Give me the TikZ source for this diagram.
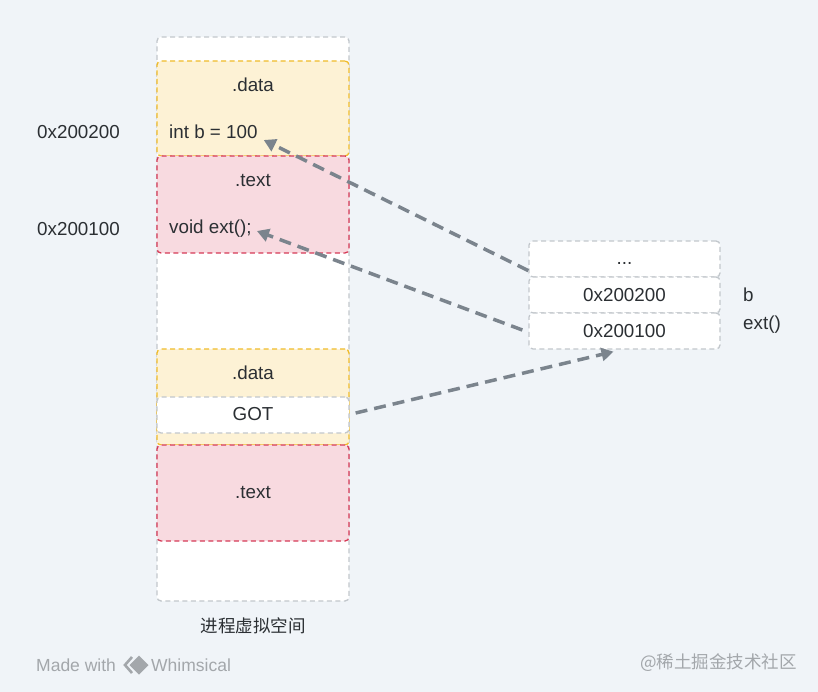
\documentclass[tikz,border=0pt]{standalone}
\usepackage{fontspec}
\setmainfont{Liberation Sans}
\newfontfamily\cjk{Noto Sans CJK SC}
\usetikzlibrary{arrows.meta, calc}
\definecolor{bgpaper}{HTML}{F0F4F8}
\definecolor{ink}{HTML}{2B2F33}
\definecolor{gapgray}{HTML}{C2C7CC}
\definecolor{datafill}{HTML}{FDF2D5}
\definecolor{dataedge}{HTML}{F0BC2A}
\definecolor{textfill}{HTML}{F8DAE0}
\definecolor{textedge}{HTML}{D63A57}
\definecolor{ptrgray}{HTML}{7B848D}
\definecolor{markgray}{HTML}{A3A7AB}

\begin{document}
\begin{tikzpicture}[x=1pt, y=-1pt,
  seg/.style={rounded corners=4pt, dash pattern=on 5pt off 3.5pt, line width=1.3pt, minimum width=192pt, inner sep=0pt},
  blank/.style={seg, draw=gapgray, fill=white},
  datab/.style={seg, draw=dataedge, fill=datafill},
  textb/.style={seg, draw=textedge, fill=textfill},
  lbl/.style={font=\fontsize{18.8}{22}\selectfont, text=ink, inner sep=2pt},
  foot/.style={font=\fontsize{17.5}{20}\selectfont, text=markgray, inner sep=0pt},
  ptr/.style={draw=ptrgray, line width=3.5pt, dash pattern=on 12pt off 7pt, -{Triangle[length=12pt,width=13pt]}}
]
\useasboundingbox (0,0) rectangle (818,692);
\fill[bgpaper] (0,0) rectangle (818,692);

% process address space
\node[blank, minimum height=564pt] (space) at (253,319) {};
\node[datab, minimum height=95pt]  (data1) at (253,108.5) {};
\node[textb, minimum height=97pt]  (text1) at (253,204.5) {};
\node[datab, minimum height=96pt]  (data2) at (253,397) {};
\node[blank, minimum height=36pt]  (got)   at (253,415) {};
\node[textb, minimum height=96pt]  (text2) at (253,493) {};

\node[lbl] at (253,85)  {.data};
\node[lbl, anchor=west] (intb) at (167,132) {int b = 100};
\node[lbl] at (253,181) {.text};
\node[lbl, anchor=west] (voidext) at (167,229) {void ext();};
\node[lbl] at (253,373) {.data};
\node[lbl] at (253,414) {GOT};
\node[lbl] at (253,493) {.text};

\node[lbl, anchor=west] (adrb) at (35,132) {0x200200};
\node[lbl, anchor=west] (adre) at (35,229) {0x200100};
\node[lbl, font=\fontsize{17.5}{20}\selectfont] (caption) at (253,626) {\cjk 进程虚拟空间};

% global offset table
\node[blank, minimum width=191pt, minimum height=36pt] (dots)  at (624.5,259) {};
\node[blank, minimum width=191pt, minimum height=36pt] (addr2) at (624.5,295) {};
\node[blank, minimum width=191pt, minimum height=36pt] (addr1) at (624.5,331) {};
\node[lbl] at ($(dots)+(0,4)$) {...};
\node[lbl] at (addr2) {0x200200};
\node[lbl] at (addr1) {0x200100};
\node[lbl, anchor=west] (symb) at (741,295) {b};
\node[lbl, anchor=west] (syme) at (741,325) {ext()};

\draw[ptr] ($(dots.south west)+(0,-7)$) -- ($(intb.east)+(4,8)$);
\draw[ptr] ($(addr1.west)+(-6,-1)$) -- ($(voidext.east)+(3,2)$);
\draw[ptr] ($(got.east)+(6,-2)$) -- ($(addr1.south)+(-11,2)$);

% footer
\node[foot, anchor=west] (made) at (36,665) {Made with};
\draw[markgray, line width=2.6pt] (132,657) -- (125,665) -- (132,673);
\fill[markgray] (139,655.5) -- (148.5,665) -- (139,674.5) -- (129.5,665) -- cycle;
\node[foot, anchor=west] (whim) at (151,665) {Whimsical};
\node[foot, anchor=east] (mark) at (797,663) {\cjk @稀土掘金技术社区};
\end{tikzpicture}
\end{document}
